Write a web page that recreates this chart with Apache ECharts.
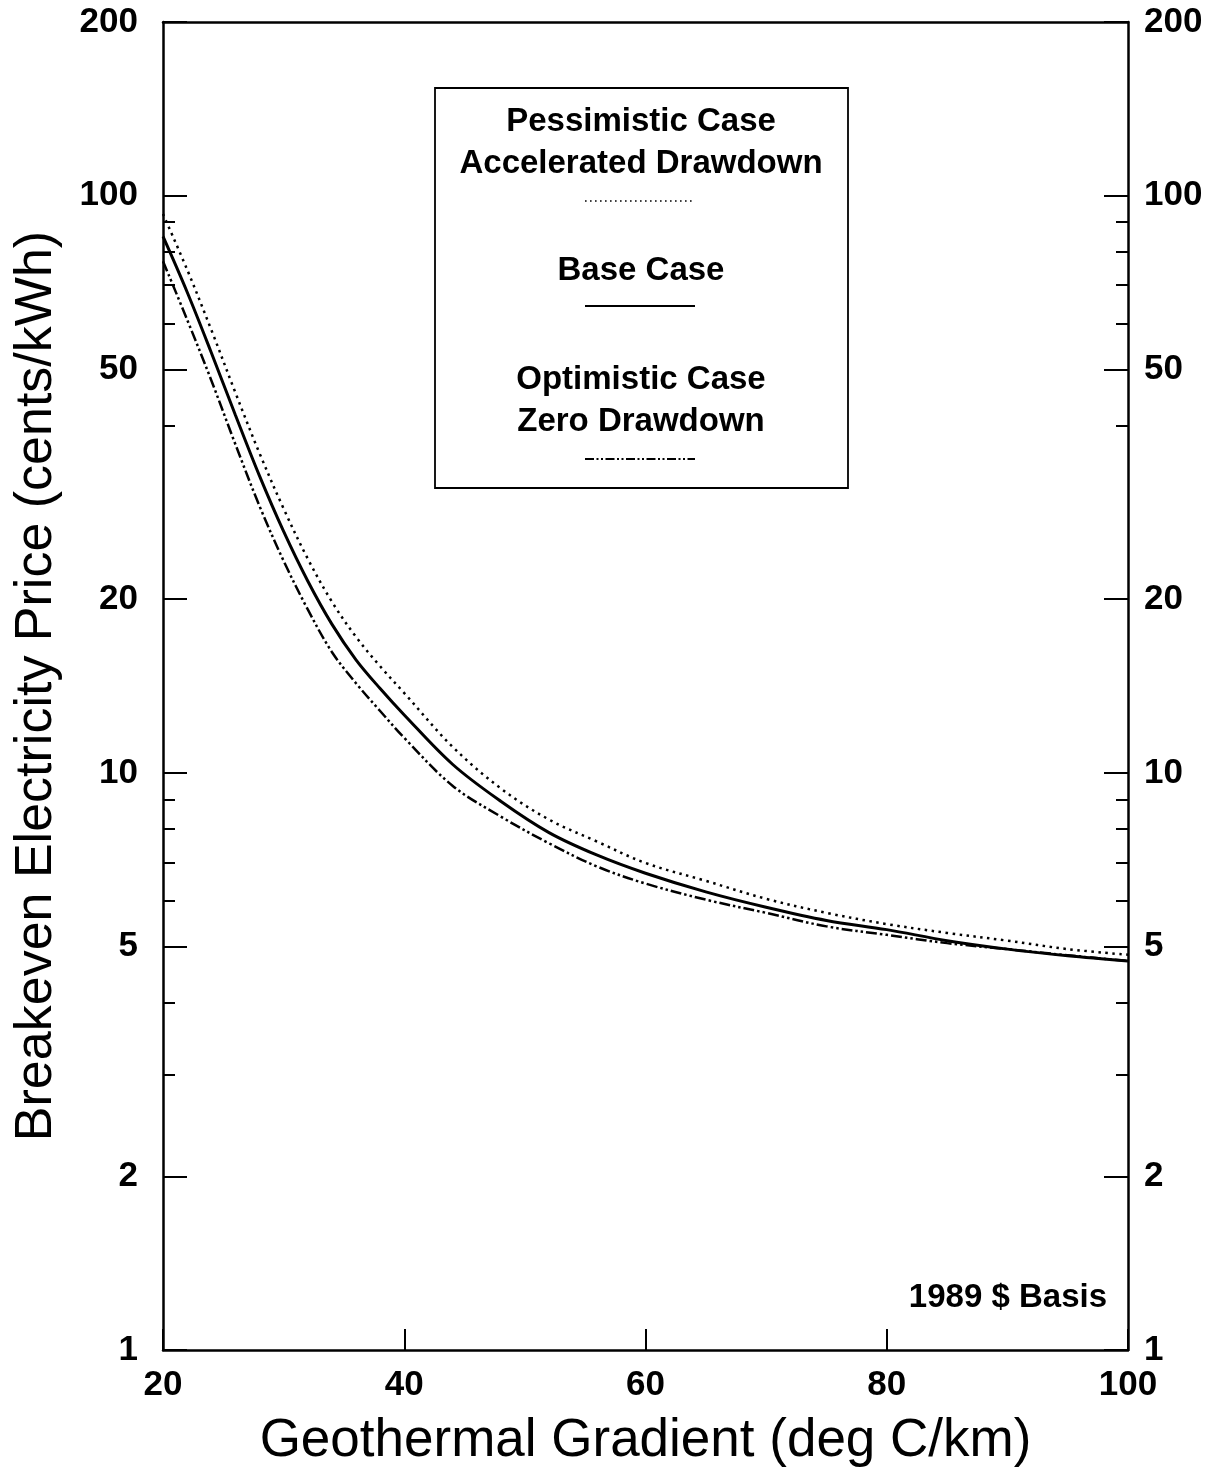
<!DOCTYPE html>
<html>
<head>
<meta charset="utf-8">
<script src="https://cdn.jsdelivr.net/npm/echarts@6/dist/echarts.min.js"></script>
<style>
html,body{margin:0;padding:0;background:#fff;}
#chart{width:1225px;height:1474px;}
</style>
</head>
<body>
<div id="chart"></div>
<script>
// ---- data ----
const gradient    = [20, 22, 24, 26, 28, 30, 32, 34, 36, 38, 40, 44, 48, 52, 56, 60, 65, 70, 75, 80, 85, 90, 95, 100];
const baseCase    = [85, 68.1, 53.5, 41.7, 32.7, 26.2, 21.5, 18.1, 15.7, 14.0, 12.6, 10.35, 8.93, 7.88, 7.2, 6.7, 6.22, 5.85, 5.55, 5.35, 5.12, 4.95, 4.82, 4.72];
const pessimistic = [93, 74.5, 58.6, 45.6, 35.8, 28.7, 23.5, 19.8, 17.2, 15.3, 13.75, 11.1, 9.4, 8.3, 7.6, 6.98, 6.5, 6.05, 5.72, 5.47, 5.28, 5.12, 4.95, 4.84];
const optimistic  = [77, 61, 47.9, 37.1, 29.0, 23.3, 19.2, 16.2, 14.3, 12.8, 11.5, 9.5, 8.4, 7.55, 6.88, 6.43, 6.03, 5.72, 5.42, 5.24, 5.07, 4.95, 4.83, 4.72];
const yMajorTicks = [1, 2, 5, 10, 20, 50, 100, 200];
const yMinorTicks = [3, 4, 6, 7, 8, 9, 40, 60, 70, 80, 90];
const xTickLabels = [20, 40, 60, 80, 100];
const legendLines = ['Pessimistic Case', 'Accelerated Drawdown', 'Base Case', 'Optimistic Case', 'Zero Drawdown'];
const noteText = '1989 $ Basis';
const xTitle = 'Geothermal Gradient (deg C/km)';
const yTitle = 'Breakeven Electricity Price (cents/kWh)';

const FONT = '"Liberation Sans", Arial, Helvetica, sans-serif';
const INK = '#000';

function pairs(ys){ return gradient.map((x,i)=>[x, ys[i]]); }

function yAxisDef(position, ticks, len, withLabels, withLine, extra){
  return Object.assign({
    type: 'log', logBase: 10, min: 1, max: 200, position: position,
    axisLine: {show: withLine, lineStyle: {color: INK, width: 2.5}},
    axisTick: {show: true, inside: true, length: len, customValues: ticks, lineStyle: {color: INK, width: 2}},
    axisLabel: withLabels ? {show: true, customValues: ticks, color: INK, fontFamily: FONT, fontWeight: 'bold', fontSize: 35,
                 margin: position === 'left' ? 25 : 16} : {show: false},
    splitLine: {show: false}, minorTick: {show: false}
  }, extra || {});
}

const chart = echarts.init(document.getElementById('chart'), null, {renderer: 'canvas'});
chart.setOption({
  animation: false,
  backgroundColor: '#fff',
  grid: {left: 163, right: 97, top: 22, bottom: 124, containLabel: false},
  xAxis: [
    {type: 'value', min: 20, max: 100, interval: 20, position: 'bottom',
     axisLine: {show: true, lineStyle: {color: INK, width: 2.5}},
     axisTick: {show: true, inside: true, length: 21, customValues: xTickLabels, lineStyle: {color: INK, width: 2}},
     axisLabel: {show: true, customValues: xTickLabels, color: INK, fontFamily: FONT, fontWeight: 'bold', fontSize: 35, margin: 18},
     splitLine: {show: false},
     name: xTitle, nameLocation: 'middle', nameGap: 65,
     nameTextStyle: {color: INK, fontFamily: FONT, fontSize: 53}},
    {type: 'value', min: 20, max: 100, position: 'top',
     axisLine: {show: true, lineStyle: {color: INK, width: 2.5}},
     axisTick: {show: false}, axisLabel: {show: false}, splitLine: {show: false}}
  ],
  yAxis: [
    yAxisDef('left', yMajorTicks, 24, true, true, {
      name: yTitle, nameLocation: 'middle', nameGap: 100, nameRotate: 90,
      nameTextStyle: {color: INK, fontFamily: FONT, fontSize: 52}}),
    yAxisDef('left', yMinorTicks, 12, false, false),
    yAxisDef('right', yMajorTicks, 24, true, true),
    yAxisDef('right', yMinorTicks, 12, false, false)
  ],
  series: [
    {name: 'Pessimistic', type: 'line', data: pairs(pessimistic), symbol: 'none', smooth: 0.35,
     lineStyle: {color: INK, width: 2.5, type: [2.5, 4.5], cap: 'butt'}, z: 3},
    {name: 'Base', type: 'line', data: pairs(baseCase), symbol: 'none', smooth: 0.35,
     lineStyle: {color: INK, width: 3, type: 'solid'}, z: 4},
    {name: 'Optimistic', type: 'line', data: pairs(optimistic), symbol: 'none', smooth: 0.35,
     lineStyle: {color: INK, width: 2.5, type: [11, 3, 2.5, 3, 2.5, 3], cap: 'butt'}, z: 3}
  ],
  graphic: [
    {type: 'rect', shape: {x: 435, y: 88, width: 413, height: 400},
     style: {fill: '#fff', stroke: INK, lineWidth: 1.8}, z: 10},
    {type: 'text', x: 641, y: 122, style: {text: legendLines[0], font: 'bold 33px ' + FONT, fill: INK, align: 'center', verticalAlign: 'middle'}, z: 11},
    {type: 'text', x: 641, y: 164, style: {text: legendLines[1], font: 'bold 33px ' + FONT, fill: INK, align: 'center', verticalAlign: 'middle'}, z: 11},
    {type: 'line', shape: {x1: 585, y1: 201, x2: 692, y2: 201}, style: {stroke: INK, lineWidth: 1.6, lineDash: [1.6, 3.4]}, z: 11},
    {type: 'text', x: 641, y: 271, style: {text: legendLines[2], font: 'bold 33px ' + FONT, fill: INK, align: 'center', verticalAlign: 'middle'}, z: 11},
    {type: 'line', shape: {x1: 585, y1: 306, x2: 695, y2: 306}, style: {stroke: INK, lineWidth: 2}, z: 11},
    {type: 'text', x: 641, y: 380, style: {text: legendLines[3], font: 'bold 33px ' + FONT, fill: INK, align: 'center', verticalAlign: 'middle'}, z: 11},
    {type: 'text', x: 641, y: 422, style: {text: legendLines[4], font: 'bold 33px ' + FONT, fill: INK, align: 'center', verticalAlign: 'middle'}, z: 11},
    {type: 'line', shape: {x1: 585, y1: 459, x2: 695, y2: 459}, style: {stroke: INK, lineWidth: 2, lineDash: [9, 2.5, 2, 2.5, 2, 2.5]}, z: 11},
    {type: 'text', x: 1107, y: 1298, style: {text: noteText, font: 'bold 33px ' + FONT, fill: INK, align: 'right', verticalAlign: 'middle'}, z: 11}
  ]
});
</script>
</body>
</html>
